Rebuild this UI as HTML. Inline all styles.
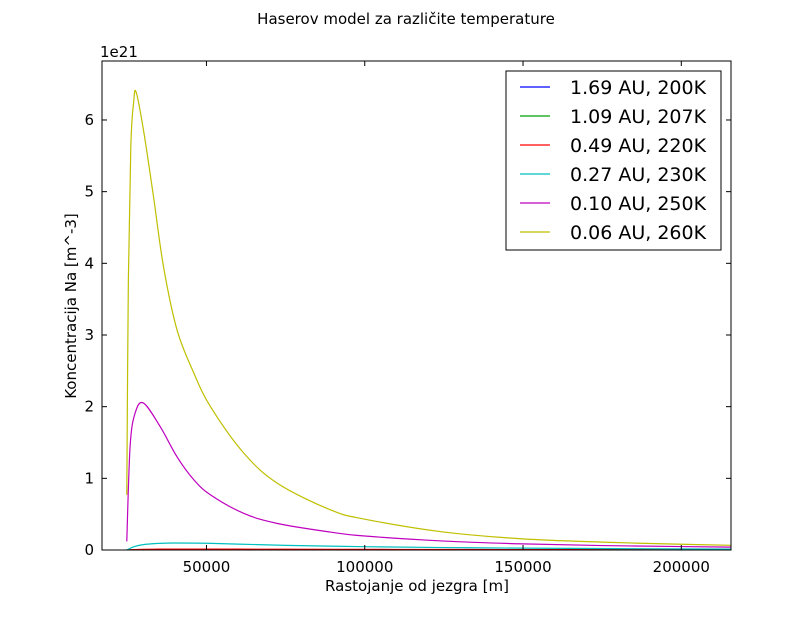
<!DOCTYPE html>
<html><head><meta charset="utf-8"><style>
body{margin:0;background:#fff;}
svg text{font-family:"DejaVu Sans","Liberation Sans",sans-serif;}
</style></head><body>
<svg id="c" width="812" height="612" xmlns="http://www.w3.org/2000/svg">
<rect width="812" height="612" fill="#fff"/>
<text x="406" y="24" font-size="15" text-anchor="middle">Haserov model za različite temperature</text>
<g id="plot"></g>
<rect x="102" y="61" width="629" height="489" fill="none" stroke="#000" stroke-width="1"/>
<g id="ticks"></g>
<text x="100" y="57" font-size="15">1e21</text>
<text x="417" y="591" font-size="15" text-anchor="middle">Rastojanje od jezgra [m]</text>
<text transform="translate(76,306) rotate(-90)" font-size="15" text-anchor="middle">Koncentracija Na [m^-3]</text>
<g id="legend"></g>
</svg>
<script>
const xYellow=[24830,25330,26100,27000,27780,30100,33270,36440,40700,46000,51270,61840,72440,89150,100000,125000,150000,175000,200000,216000];
const sYellow=[0.77,3.77,5.63,6.25,6.39,5.86,4.93,3.95,3.07,2.47,2.0,1.35,0.93,0.56,0.43,0.25,0.155,0.11,0.08,0.065];
const xMagenta=[24830,25870,27460,30100,35400,40700,46000,51270,61840,72440,89150,100000,125000,150000,175000,200000,216000];
const sMagenta=[0.12,1.44,1.91,2.05,1.72,1.30,0.98,0.77,0.51,0.37,0.25,0.195,0.125,0.085,0.062,0.048,0.04];
const xBase=[24830,27000,30000,35000,40000,50000,60000,75000,100000,125000,150000,180000,216000];
const sCyan=[0.0,0.045,0.075,0.092,0.098,0.094,0.082,0.065,0.046,0.034,0.026,0.019,0.013];
const sRed=[0,0.005,0.009,0.012,0.013,0.013,0.012,0.011,0.009,0.007,0.006,0.005,0.004];
const sGreen=[0,0.002,0.003,0.004,0.004,0.004,0.004,0.004,0.003,0.003,0.002,0.002,0.002];
const sBlue=[0,0.001,0.001,0.002,0.002,0.002,0.002,0.002,0.002,0.001,0.001,0.001,0.001];
const seriesLabels=["1.69 AU, 200K","1.09 AU, 207K","0.49 AU, 220K","0.27 AU, 230K","0.10 AU, 250K","0.06 AU, 260K"];
const seriesX=[xBase,xBase,xBase,xBase,xMagenta,xYellow];
const seriesData=[sBlue,sGreen,sRed,sCyan,sMagenta,sYellow];
const colors=["#0000ff","#00a000","#ff0000","#00bfbf","#bf00bf","#bfbf00"];
const xTicks=[50000,100000,150000,200000];
const yTicks=[0,1,2,3,4,5,6];
const X0=17000,X1=215700,Y0=0,Y1=6.823;
const L=102,R=731,T=61,B=550;
const sx=v=>L+(v-X0)/(X1-X0)*(R-L);
const sy=v=>B-(v-Y0)/(Y1-Y0)*(B-T);
const NS="http://www.w3.org/2000/svg";
function mk(t,a,p){const e=document.createElementNS(NS,t);for(const k in a)e.setAttribute(k,a[k]);p.appendChild(e);return e;}
function smooth(pts){let d=`M${pts[0][0]},${pts[0][1]}`;for(let i=0;i<pts.length-1;i++){const p0=pts[Math.max(0,i-1)],p1=pts[i],p2=pts[i+1],p3=pts[Math.min(pts.length-1,i+2)];
const c1=[p1[0]+(p2[0]-p0[0])/6,p1[1]+(p2[1]-p0[1])/6],c2=[p2[0]-(p3[0]-p1[0])/6,p2[1]-(p3[1]-p1[1])/6];
d+=` C${c1[0]},${c1[1]} ${c2[0]},${c2[1]} ${p2[0]},${p2[1]}`;}return d;}
const plot=document.getElementById('plot');
mk('clipPath',{id:'cp'},plot).appendChild(document.createElementNS(NS,'rect'));
const cr=plot.querySelector('#cp rect');cr.setAttribute('x',L);cr.setAttribute('y',T);cr.setAttribute('width',R-L);cr.setAttribute('height',B-T);
seriesData.forEach((s,i)=>{const xs=seriesX[i];const pts=xs.map((x,j)=>[sx(x),sy(s[j])]);
const p=mk('path',{d:smooth(pts),fill:'none',stroke:colors[i],'stroke-width':1.2,'clip-path':'url(#cp)'},plot);

});
const tk=document.getElementById('ticks');
xTicks.forEach(v=>{const x=sx(v);mk('line',{x1:x,x2:x,y1:B,y2:B-5,stroke:'#000'},tk);mk('line',{x1:x,x2:x,y1:T,y2:T+5,stroke:'#000'},tk);
const t=mk('text',{x:x,y:B+22,'font-size':15,'text-anchor':'middle'},tk);t.textContent=v;

});
yTicks.forEach(v=>{const y=sy(v);mk('line',{x1:L,x2:L+5,y1:y,y2:y,stroke:'#000'},tk);mk('line',{x1:R,x2:R-5,y1:y,y2:y,stroke:'#000'},tk);
const t=mk('text',{x:L-8,y:y+5,'font-size':15,'text-anchor':'end'},tk);t.textContent=v;

});
const lg=document.getElementById('legend');
mk('rect',{x:506,y:71,width:215,height:179,fill:'#fff',stroke:'#000'},lg);
seriesLabels.forEach((s,i)=>{const y=87+i*29;mk('line',{x1:520,x2:550,y1:y,y2:y,stroke:colors[i],'stroke-width':1.2},lg);
const t=mk('text',{x:570,y:y+7,'font-size':19},lg);t.textContent=s;

});
</script>
</body></html>
